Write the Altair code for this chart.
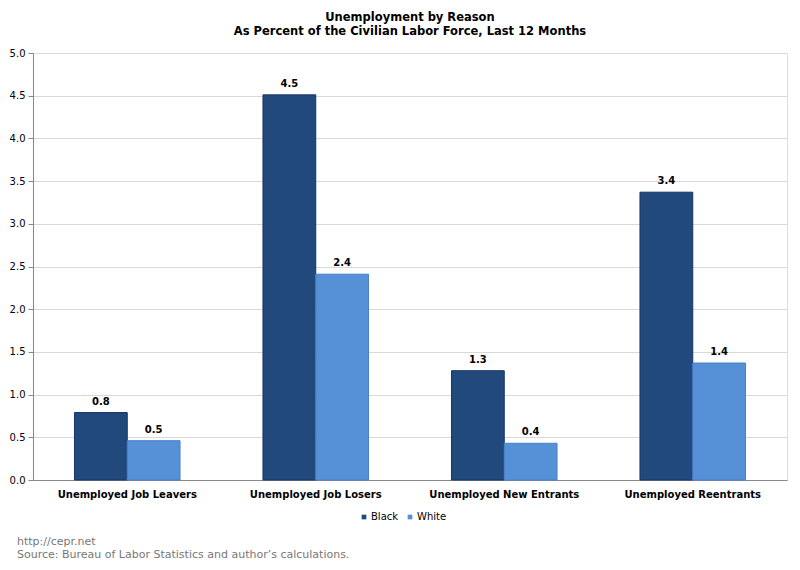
import altair as alt
import pandas as pd

categories = ["Unemployed Job Leavers", "Unemployed Job Losers",
              "Unemployed New Entrants", "Unemployed Reentrants"]
black = [0.79, 4.51, 1.28, 3.37]
white = [0.46, 2.41, 0.43, 1.37]
series = ["Black", "White"]
footer_lines = ["http://cepr.net",
                "Source: Bureau of Labor Statistics and author\u2019s calculations."]

rows = []
for c, b, w in zip(categories, black, white):
    rows.append({"reason": c, "race": "Black", "value": b})
    rows.append({"reason": c, "race": "White", "value": w})
df = pd.DataFrame(rows)

W, H = 754, 427
font = "DejaVu Sans"

x = alt.X("reason:N", sort=categories, title=None,
          scale=alt.Scale(paddingInner=0.44, paddingOuter=0.22),
          axis=alt.Axis(labelAngle=0, ticks=False, labelFont=font, labelFontSize=10,
                        labelFontWeight="bold", labelColor="#000", labelPadding=9,
                        domainColor="#888"))
y = alt.Y("value:Q", title=None,
          scale=alt.Scale(domain=[0, 5]),
          axis=alt.Axis(values=[0, 0.5, 1, 1.5, 2, 2.5, 3, 3.5, 4, 4.5, 5], format=".1f",
                        labelFont=font, labelFontSize=10, labelColor="#000",
                        tickColor="#888", tickSize=5, domainColor="#888",
                        gridColor="#d9d9d9", labelPadding=3))
xo = alt.XOffset("race:N", sort=series)

bars = alt.Chart(df).mark_bar(strokeWidth=1).encode(
    x=x, y=y, xOffset=xo,
    color=alt.Color("race:N", sort=series, title=None,
                    scale=alt.Scale(domain=series, range=["#21497c", "#5690d6"]),
                    legend=alt.Legend(orient="none", direction="horizontal",
                                      legendX=326, legendY=H + 32,
                                      symbolType="square", symbolSize=22,
                                      labelFont=font, labelFontSize=10,
                                      labelColor="#000", labelOffset=2,
                                      columnPadding=6, symbolStrokeWidth=0)),
    stroke=alt.Stroke("race:N", sort=series, legend=None,
                      scale=alt.Scale(domain=series, range=["#17346a", "#4a7fcb"])),
)

labels = alt.Chart(df).mark_text(dy=-11, font=font, fontSize=10, fontWeight="bold",
                                 color="#000").encode(
    x=alt.X("reason:N", sort=categories), y="value:Q", xOffset=xo,
    text=alt.Text("value:Q", format=".1f"),
)

def footer(i, yy):
    return alt.Chart(pd.DataFrame({"t": [footer_lines[i]]})).mark_text(
        align="left", baseline="middle", font=font, fontSize=11, color="#777"
    ).encode(x=alt.value(-16), y=alt.value(yy), text="t:N")

chart = alt.layer(bars, labels, footer(0, H + 62), footer(1, H + 75)).properties(
    width=W, height=H,
    autosize=alt.AutoSizeParams(type="none"),
    padding={"left": 25, "top": 45, "right": 5, "bottom": 82},
    title=alt.TitleParams("Unemployment by Reason",
                          subtitle="As Percent of the Civilian Labor Force, Last 12 Months",
                          font=font, fontSize=11.5, fontWeight="bold",
                          subtitleFont=font, subtitleFontSize=11.5,
                          subtitleFontWeight="bold", subtitleColor="#000",
                          color="#000", anchor="middle", offset=11, subtitlePadding=2),
).configure_view(strokeWidth=0).configure(background="white")

chart.save("out.html", embed_options={"renderer": "svg", "actions": False})
